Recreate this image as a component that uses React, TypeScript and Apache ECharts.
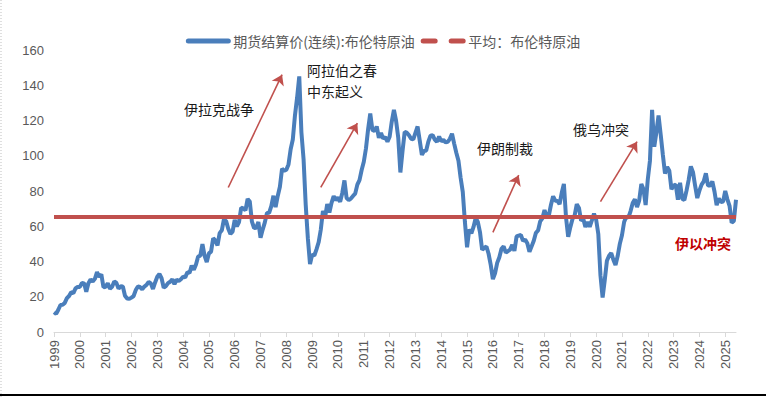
import React, { useEffect, useRef } from "react";
import * as echarts from "echarts";

// Brent crude futures settlement price (continuous), monthly readings, 1999-01 .. 2025-06
const brentPrice: number[] = [
  // 1999
  11.2, 10.3, 12.6, 15.3, 15.4, 16.5, 19.2, 20.4, 22.6, 22.1, 24.7, 25.6,
  // 2000
  25.6, 27.8, 27.6, 22.9, 27.7, 29.8, 28.7, 30.2, 34.0, 31.2, 32.7, 25.4,
  // 2001
  25.7, 27.6, 24.6, 25.7, 28.6, 27.9, 24.6, 25.9, 25.8, 20.6, 19.0, 18.8,
  // 2002
  19.5, 20.4, 23.8, 25.8, 25.5, 24.2, 25.8, 26.7, 28.4, 27.6, 24.4, 28.1,
  // 2003
  31.3, 32.9, 30.5, 25.1, 26.0, 27.7, 28.5, 29.9, 27.2, 29.7, 28.9, 29.9,
  // 2004
  31.4, 31.0, 33.9, 33.5, 37.7, 35.3, 38.3, 42.8, 43.3, 49.8, 43.2, 39.7,
  // 2005
  44.6, 45.6, 53.2, 52.0, 49.1, 56.1, 57.7, 64.0, 62.9, 58.6, 55.6, 56.9,
  // 2006
  63.6, 60.0, 62.4, 70.5, 70.1, 69.0, 75.5, 74.0, 62.6, 59.0, 59.2, 62.4,
  // 2007
  53.5, 58.1, 62.2, 67.5, 67.6, 71.4, 77.3, 70.9, 77.2, 82.4, 92.6, 91.5,
  // 2008
  92.1, 95.1, 103.7, 109.2, 122.9, 133.0, 145.0, 113.3, 98.1, 72.1, 53.1, 38.5,
  // 2009
  44.0, 43.3, 46.9, 50.9, 58.0, 68.7, 65.0, 72.6, 67.8, 73.3, 77.1, 74.8,
  // 2010
  76.3, 73.9, 78.9, 86.0, 76.0, 74.9, 75.7, 77.2, 78.5, 83.6, 86.2, 91.9,
  // 2011
  96.6, 104.1, 115.0, 124.0, 114.6, 114.0, 116.6, 110.2, 112.9, 109.7, 110.6, 108.0,
  // 2012
  110.8, 119.4, 126.0, 119.9, 110.4, 90.5, 102.7, 113.5, 113.1, 111.6, 109.6, 109.3,
  // 2013
  113.0, 116.6, 108.6, 100.5, 102.7, 103.0, 108.0, 111.4, 111.7, 109.2, 107.9, 110.9,
  // 2014
  108.2, 109.0, 107.6, 107.9, 109.6, 112.5, 106.9, 101.7, 97.2, 87.5, 79.5, 62.4,
  // 2015
  48.1, 58.2, 56.0, 59.6, 64.7, 62.4, 56.7, 46.6, 47.7, 48.5, 44.4, 38.1,
  // 2016
  30.0, 33.3, 39.2, 42.4, 47.2, 48.6, 45.0, 45.9, 46.7, 49.4, 46.0, 54.2,
  // 2017
  54.7, 55.1, 51.7, 52.4, 50.4, 45.5, 48.6, 51.8, 56.3, 57.6, 62.8, 64.5,
  // 2018
  69.2, 65.4, 66.1, 72.2, 77.0, 74.5, 74.4, 72.6, 79.0, 84.0, 64.9, 54.0,
  // 2019
  59.5, 64.1, 66.2, 72.5, 70.4, 63.1, 64.3, 59.6, 62.4, 59.7, 63.3, 67.1,
  // 2020
  63.7, 55.6, 32.1, 19.5, 29.5, 40.4, 43.3, 44.8, 41.0, 38.0, 43.1, 50.0,
  // 2021
  54.9, 62.4, 65.5, 64.9, 68.6, 73.2, 75.3, 70.9, 74.6, 84.0, 81.0, 72.0,
  // 2022
  86.6, 97.2, 126.0, 105.1, 113.4, 122.8, 112.0, 100.6, 89.9, 93.7, 91.5, 81.0,
  // 2023
  83.1, 83.6, 75.0, 84.7, 75.6, 74.9, 80.2, 86.3, 94.0, 90.7, 83.0, 76.0,
  // 2024
  80.2, 83.6, 85.5, 90.0, 83.1, 83.1, 85.4, 79.7, 72.0, 75.8, 73.7, 74.0,
  // 2025
  80.0, 75.3, 71.6, 62.0, 63.0, 75.0,
];

const firstYear = 1999;
const months: string[] = brentPrice.map((_, i) => {
  const y = firstYear + Math.floor(i / 12);
  const m = (i % 12) + 1;
  return `${y}-${m < 10 ? "0" + m : m}`;
});

const averagePrice = 65.5;

const seriesNames = ["期货结算价(连续):布伦特原油", "平均：布伦特原油"];

// arrows: [from month, from value] -> [to month, to value]
const arrowStarts: [string, number][] = [
  ["2005-10", 82],
  ["2009-05", 82],
  ["2016-01", 56.5],
  ["2020-03", 74],
];
const arrowEnds: [string, number][] = [
  ["2007-11", 146],
  ["2010-10", 118.5],
  ["2017-01", 89],
  ["2021-08", 108],
];

const BLUE = "#4A7EBB";
const RED = "#C0504D";
const FONT = "'Noto Sans CJK SC', 'Noto Sans', sans-serif";

export default function App() {
  const ref = useRef<HTMLDivElement>(null);

  useEffect(() => {
    if (!ref.current) return;
    const chart = echarts.init(ref.current, null, { renderer: "svg" });
    const isYearStart = (_i: number, v: string) => v.endsWith("-01");
    const annotation = (text: string, left: number, top: number, extra: any = {}) => ({
      type: "text",
      left,
      top,
      silent: true,
      style: { text, fontSize: 14, lineHeight: 16, fill: "#1a1a1a", fontFamily: FONT, ...extra },
    });
    chart.setOption({
      animation: false,
      textStyle: { fontFamily: FONT },
      legend: {
        top: 29,
        left: "center",
        itemGap: 6,
        itemWidth: 40,
        itemHeight: 5,
        textStyle: { fontSize: 14, color: "#595959", fontFamily: FONT },
        data: [
          {
            name: seriesNames[0],
            itemStyle: { color: BLUE, opacity: 0 },
            lineStyle: { color: BLUE, width: 5, cap: "round" },
          },
          {
            name: seriesNames[1],
            itemStyle: { color: RED, opacity: 0 },
            lineStyle: { color: RED, width: 5, type: [12, 16], cap: "round" },
          },
        ],
      },
      grid: { left: 54, right: 30, top: 50, bottom: 65, containLabel: false },
      xAxis: {
        type: "category",
        data: months,
        boundaryGap: false,
        axisLine: { lineStyle: { color: "#D9D9D9", width: 1 } },
        axisTick: { show: true, interval: isYearStart, length: 5, lineStyle: { color: "#D9D9D9" } },
        axisLabel: {
          interval: isYearStart,
          rotate: 90,
          margin: 8,
          fontSize: 13,
          color: "#595959",
          fontFamily: "Arial, 'Liberation Sans', sans-serif",
          formatter: (v: string) => v.slice(0, 4),
        },
        splitLine: { show: false },
      },
      yAxis: {
        type: "value",
        min: 0,
        max: 160,
        interval: 20,
        axisLine: { show: false },
        axisTick: { show: false },
        splitLine: { show: false },
        axisLabel: {
          margin: 10,
          fontSize: 13,
          color: "#595959",
          fontFamily: "Arial, 'Liberation Sans', sans-serif",
        },
      },
      series: [
        {
          name: seriesNames[0],
          type: "line",
          data: brentPrice,
          symbol: "none",
          lineStyle: { color: BLUE, width: 4 },
          itemStyle: { color: BLUE },
          z: 2,
        },
        {
          name: seriesNames[1],
          type: "line",
          data: [],
          symbol: "none",
          itemStyle: { color: RED },
          lineStyle: { color: RED, width: 4 },
          z: 3,
          markLine: {
            silent: true,
            symbol: ["none", "none"],
            label: { show: false },
            lineStyle: { color: RED, width: 4, type: "solid" },
            data: [{ yAxis: averagePrice }],
          },
        },
        {
          name: "arrows",
          type: "line",
          data: [],
          symbol: "none",
          z: 4,
          markLine: {
            silent: true,
            symbol: ["none", "arrow"],
            symbolSize: 10,
            label: { show: false },
            lineStyle: { color: RED, width: 1.6, type: "solid" },
            data: arrowStarts.map((s, i) => [{ coord: s }, { coord: arrowEnds[i] }]),
          },
        },
      ],
      graphic: [
        annotation("伊拉克战争", 184, 101),
        annotation("阿拉伯之春", 307, 62),
        annotation("中东起义", 307, 83),
        annotation("伊朗制裁", 477, 140),
        annotation("俄乌冲突", 573, 121),
        annotation("伊以冲突", 675, 235, { fontWeight: "bold", fill: "#C00000" }),
        {
          type: "line",
          shape: { x1: 1, y1: 0, x2: 1, y2: 397 },
          style: { stroke: "#BFBFBF", lineWidth: 1, lineDash: [1, 2] },
          silent: true,
        },
        {
          type: "line",
          shape: { x1: 0, y1: 395, x2: 766, y2: 395 },
          style: { stroke: "#000", lineWidth: 2 },
          silent: true,
        },
      ],
    });
    return () => chart.dispose();
  }, []);

  return (
    <div
      ref={ref}
      style={{ position: "absolute", left: 0, top: 0, width: 766, height: 397, background: "#fff" }}
    />
  );
}
